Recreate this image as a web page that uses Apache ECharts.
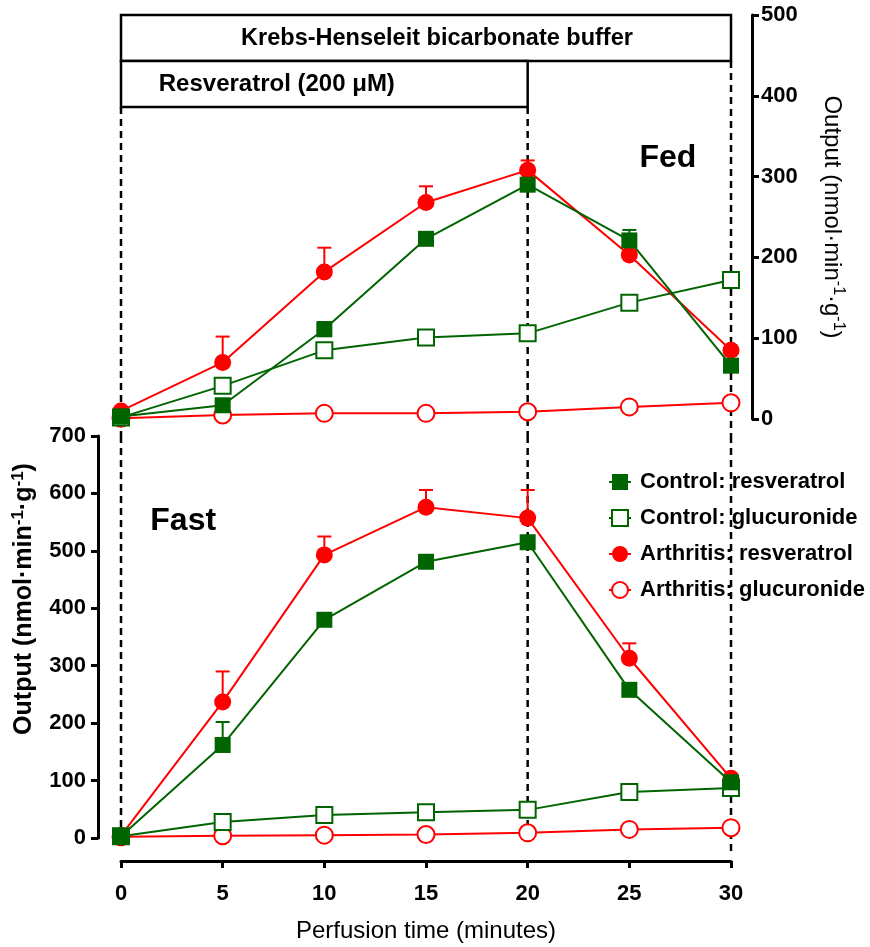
<!DOCTYPE html>
<html>
<head>
<meta charset="utf-8">
<script src="https://cdn.jsdelivr.net/npm/echarts@6/dist/echarts.min.js"></script>
<style>
  html, body { margin: 0; padding: 0; background: #fff; }
  #chart { width: 870px; height: 947px; }
</style>
</head>
<body>
<div id="chart"></div>
<script>
// Perfusion time points (minutes)
const minutes = [0, 5, 10, 15, 20, 25, 30];

// Fed rats: output (nmol·min-1·g-1)
const fedCtrlRes = [3, 17, 111, 223, 290, 221, 66];
const fedCtrlGlu = [2, 41, 85, 101, 106, 144, 172];
const fedArthRes = [10, 70, 182, 268, 308, 203, 85];
const fedArthGlu = [1, 5, 7, 7, 9, 15, 20];

// Fasted rats: output (nmol·min-1·g-1)
const fastCtrlRes = [3, 162, 380, 481, 515, 258, 97];
const fastCtrlGlu = [3, 28, 40, 45, 49, 80, 87];
const fastArthRes = [4, 237, 493, 576, 557, 313, 104];
const fastArthGlu = [2, 4, 5, 6, 9, 15, 18];

// Upper error limits (mean + SEM); null where no bar is drawn
const fedCtrlResUp = [null, null, 120, null, null, 234, null];
const fedArthResUp = [null, 102, 212, 288, 320, null, null];
const fastCtrlResUp = [null, 202, null, null, null, null, null];
const fastArthResUp = [null, 290, 525, 606, 606, 339, null];

// Axis ticks
const timeTicks = { min: 0, max: 30, interval: 5 };
const fedTicks = { min: 0, max: 500, interval: 100 };
const fastTicks = { min: 0, max: 700, interval: 100 };

// Protocol bars: [label, fromMinute, toMinute, lowValue, highValue] on the fed scale
const bufferBar = ['Krebs-Henseleit bicarbonate buffer', 0, 30, 443, 500];
const drugBar = ['Resveratrol (200 \u03bcM)', 0, 20, 386, 443];

// Dashed protocol markers: [minute, fromValue, toValue]
const fedGuides = [[0, 386, -21], [20, 386, -21], [30, 443, -21]];
const fastGuides = [[0, 700, 0], [20, 700, -8], [30, 700, -28]];

const names = ['Control: resveratrol', 'Control: glucuronide', 'Arthritis: resveratrol', 'Arthritis: glucuronide'];
const GREEN = '#006400';
const RED = '#ff0000';
const FONT = 'Liberation Sans, Arial, sans-serif';

const pairs = (ys) => minutes.map((m, i) => [m, ys[i]]);
const errPairs = (ys, ups) => minutes.map((m, i) => ups[i] == null ? null : [m, ys[i], ups[i]]).filter(Boolean);

function lineSeries(name, ys, gridIdx, kind) {
  const filled = kind === 'filled';
  const color = name.startsWith('Control') ? GREEN : RED;
  const isSquare = name.startsWith('Control');
  return {
    type: 'line',
    name: name,
    xAxisIndex: gridIdx,
    yAxisIndex: gridIdx,
    data: pairs(ys),
    symbol: isSquare ? 'rect' : 'circle',
    symbolSize: isSquare ? 16 : 17,
    showAllSymbol: true,
    lineStyle: { color: color, width: 2 },
    itemStyle: filled
      ? { color: color, borderColor: color, borderWidth: 0 }
      : { color: '#fff', borderColor: color, borderWidth: 2 },
    emphasis: { disabled: true },
    animation: false,
    z: 3
  };
}

function errorSeries(ys, ups, gridIdx, color) {
  return {
    type: 'custom',
    xAxisIndex: gridIdx,
    yAxisIndex: gridIdx,
    data: errPairs(ys, ups),
    z: 2,
    animation: false,
    renderItem: function (params, api) {
      const p0 = api.coord([api.value(0), api.value(1)]);
      const p1 = api.coord([api.value(0), api.value(2)]);
      const half = 7;
      return {
        type: 'group',
        children: [
          { type: 'line', shape: { x1: p0[0], y1: p0[1], x2: p1[0], y2: p1[1] }, style: { stroke: color, lineWidth: 2 } },
          { type: 'line', shape: { x1: p1[0] - half, y1: p1[1], x2: p1[0] + half, y2: p1[1] }, style: { stroke: color, lineWidth: 2 } }
        ]
      };
    }
  };
}

function guideSeries(rows, gridIdx) {
  return {
    type: 'custom',
    xAxisIndex: gridIdx,
    yAxisIndex: gridIdx,
    data: rows,
    z: 1,
    clip: false,
    animation: false,
    silent: true,
    renderItem: function (params, api) {
      const a = api.coord([api.value(0), api.value(1)]);
      const b = api.coord([api.value(0), api.value(2)]);
      return {
        type: 'line',
        shape: { x1: a[0], y1: a[1], x2: b[0], y2: b[1] },
        style: { stroke: '#000', lineWidth: 2.5, lineDash: [7, 5] }
      };
    }
  };
}

const boxLabel = { color: '#000', fontWeight: 'bold', fontFamily: FONT };

const fedArthGluSeries = lineSeries(names[3], fedArthGlu, 0, 'open');
const fedCtrlResSeries = lineSeries(names[0], fedCtrlRes, 0, 'filled');
fedCtrlResSeries.markArea = {
  silent: true,
  itemStyle: { color: '#fff', borderColor: '#000', borderWidth: 2.5 },
  data: [
    [
      { name: bufferBar[0], coord: [bufferBar[1], bufferBar[3]],
        label: Object.assign({ show: true, position: 'inside', offset: [11, 0], fontSize: 23.5 }, boxLabel) },
      { coord: [bufferBar[2], bufferBar[4]] }
    ],
    [
      { name: drugBar[0], coord: [drugBar[1], drugBar[3]],
        label: Object.assign({ show: true, position: 'insideLeft', distance: 39, fontSize: 24 }, boxLabel) },
      { coord: [drugBar[2], drugBar[4]] }
    ]
  ]
};
fedCtrlResSeries.markPoint = {
  silent: true,
  symbol: 'rect',
  symbolSize: 1,
  itemStyle: { color: 'rgba(0,0,0,0)' },
  label: { show: true, position: 'inside', formatter: '{b}', color: '#000', fontSize: 32, fontWeight: 'bold', fontFamily: FONT },
  data: [{ name: 'Fed', coord: [26.9, 323] }]
};

const fastCtrlResSeries = lineSeries(names[0], fastCtrlRes, 1, 'filled');
fastCtrlResSeries.markPoint = {
  silent: true,
  symbol: 'rect',
  symbolSize: 1,
  itemStyle: { color: 'rgba(0,0,0,0)' },
  label: { show: true, position: 'inside', formatter: '{b}', color: '#000', fontSize: 32, fontWeight: 'bold', fontFamily: FONT },
  data: [{ name: 'Fast', coord: [3.06, 552] }]
};

const axisLine = { show: true, onZero: false, lineStyle: { color: '#000', width: 3 } };
const axisTick = { show: true, inside: false, length: 7, lineStyle: { color: '#000', width: 3 } };
const tickLabel = { color: '#000', fontSize: 22, fontWeight: 'bold', fontFamily: FONT };
const unitName = 'Output (nmol\u00b7min{sup|-1}\u00b7g{sup|-1})';

const option = {
  backgroundColor: '#fff',
  animation: false,
  textStyle: { fontFamily: FONT },
  grid: [
    { left: 121, top: 15, width: 610, height: 404 },
    { left: 121, top: 436, width: 610, height: 402 }
  ],
  xAxis: [
    { gridIndex: 0, type: 'value', min: timeTicks.min, max: timeTicks.max, interval: timeTicks.interval, show: false },
    {
      gridIndex: 1, type: 'value', min: timeTicks.min, max: timeTicks.max, interval: timeTicks.interval,
      offset: 23, axisLine: axisLine, axisTick: axisTick, splitLine: { show: false },
      axisLabel: Object.assign({ margin: 22 }, tickLabel),
      name: 'Perfusion time (minutes)', nameLocation: 'middle', nameGap: 58,
      nameTextStyle: { color: '#000', fontSize: 24, fontFamily: FONT }
    }
  ],
  yAxis: [
    {
      gridIndex: 0, type: 'value', position: 'right', offset: 21,
      min: fedTicks.min, max: fedTicks.max, interval: fedTicks.interval,
      axisLine: axisLine, axisTick: axisTick, splitLine: { show: false },
      axisLabel: Object.assign({ margin: 9 }, tickLabel),
      name: unitName, nameLocation: 'middle', nameRotate: -90, nameGap: 66,
      nameTextStyle: {
        color: '#000', fontSize: 24, fontFamily: FONT, lineHeight: 28,
        rich: { sup: { fontSize: 16, fontFamily: FONT, color: '#000', verticalAlign: 'top', lineHeight: 16 } }
      }
    },
    {
      gridIndex: 1, type: 'value', position: 'left', offset: 23,
      min: fastTicks.min, max: fastTicks.max, interval: fastTicks.interval,
      axisLine: axisLine, axisTick: axisTick, splitLine: { show: false },
      axisLabel: Object.assign({ margin: 12 }, tickLabel),
      name: unitName, nameLocation: 'middle', nameRotate: 90, nameGap: 56,
      nameTextStyle: {
        color: '#000', fontSize: 25, fontWeight: 'bold', fontFamily: FONT, lineHeight: 29,
        padding: [0, 0, 0, 76],
        rich: { sup: { fontSize: 17, fontWeight: 'bold', fontFamily: FONT, color: '#000', verticalAlign: 'top', lineHeight: 17 } }
      }
    }
  ],
  legend: {
    data: names,
    orient: 'vertical',
    left: 603,
    top: 466,
    itemWidth: 22,
    itemHeight: 20,
    itemGap: 14,
    selectedMode: false,
    textStyle: { color: '#000', fontSize: 22, fontWeight: 'bold', fontFamily: FONT, padding: [0, 0, 0, 4] }
  },
  series: [
    guideSeries(fedGuides, 0),
    guideSeries(fastGuides, 1),
    errorSeries(fedArthRes, fedArthResUp, 0, RED),
    errorSeries(fedCtrlRes, fedCtrlResUp, 0, GREEN),
    errorSeries(fastArthRes, fastArthResUp, 1, RED),
    errorSeries(fastCtrlRes, fastCtrlResUp, 1, GREEN),
    fedArthGluSeries,
    lineSeries(names[2], fedArthRes, 0, 'filled'),
    lineSeries(names[1], fedCtrlGlu, 0, 'open'),
    fedCtrlResSeries,
    lineSeries(names[3], fastArthGlu, 1, 'open'),
    lineSeries(names[2], fastArthRes, 1, 'filled'),
    lineSeries(names[1], fastCtrlGlu, 1, 'open'),
    fastCtrlResSeries
  ]
};

const chart = echarts.init(document.getElementById('chart'), null, { renderer: 'canvas' });
chart.setOption(option);
</script>
</body>
</html>
